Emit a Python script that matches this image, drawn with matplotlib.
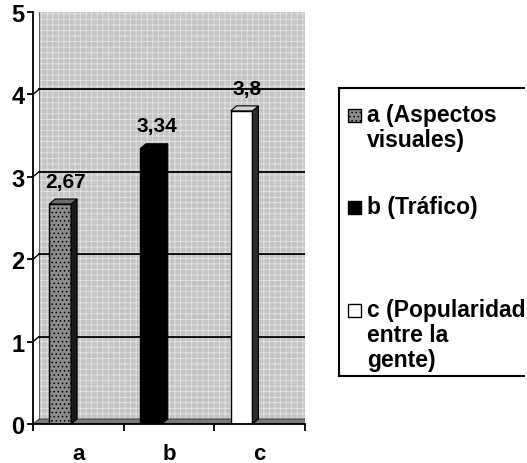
import matplotlib
matplotlib.use("Agg")
import matplotlib.pyplot as plt
from matplotlib.patches import Rectangle, Polygon
from matplotlib.lines import Line2D

categories = ["a", "b", "c"]
values = [2.67, 3.34, 3.8]
legend_labels = ["a (Aspectos\nvisuales)", "b (Tráfico)", "c (Popularidad\nentre la\ngente)"]
y_ticks = [0, 1, 2, 3, 4, 5]

FRONT_COLORS = ["#8c8c8c", "#000000", "#ffffff"]
SIDE_COLORS = ["#1a1a1a", "#000000", "#2a2a2a"]
TOP_COLORS = ["#6a6a6a", "#000000", "#d0d0d0"]

plt.rcParams['font.family'] = ['Liberation Sans', 'DejaVu Sans']
plt.rcParams['hatch.linewidth'] = 0.6

W, H = 527, 464
fig = plt.figure(figsize=(W / 100, H / 100), dpi=100)
# axes box in pixel terms: left 33, right 305, bottom 425, top 13
ax = fig.add_axes([33 / W, (H - 425) / H, (305 - 33) / W, (425 - 13) / H])
ax.set_xlim(-0.5, len(categories) - 0.5)
ax.set_ylim(0, 5)

# 3d depth offset (6 px right, 5 px up) in data units
DX = 6 / (272 / len(categories))
DY = 5 / (412 / 5)
x_left, x_right = -0.5, len(categories) - 0.5

# back wall: stippled light grey
wall = Rectangle((x_left + DX, DY), x_right - x_left, 5.0 - DY * 0.4,
                 facecolor="#c4c4c4", edgecolor="#e4e4e4", hatch="+++",
                 linewidth=0, zorder=0)
ax.add_patch(wall)
ax.add_patch(Rectangle((x_left + DX, DY), x_right - x_left, 5.0 - DY * 0.4,
                       facecolor="none", edgecolor="#666666", linewidth=0.8, zorder=0.2))

# floor
floor = Polygon([(x_left, 0), (x_left + DX, DY), (x_right + DX, DY), (x_right, 0)],
                closed=True, facecolor="#7a7a7a", edgecolor="#333333",
                linewidth=0.6, zorder=0.5)
ax.add_patch(floor)

# gridlines on wall + slanted tick connectors
for t in y_ticks[1:-1]:
    ax.plot([x_left + DX, x_right + DX], [t + DY, t + DY], color="black", lw=1.3, zorder=1)
for t in y_ticks[1:]:
    ax.plot([x_left, x_left + DX], [t, t + DY], color="black", lw=1.0, zorder=1)

BAR_W = 0.24
BAR_SHIFT = -0.2
for i, v in enumerate(values):
    x0 = i + BAR_SHIFT - BAR_W / 2
    front = Rectangle((x0, 0), BAR_W, v, facecolor=FRONT_COLORS[i],
                      edgecolor="black", linewidth=1.0, zorder=3)
    if i == 0:
        front.set_hatch("....")
    ax.add_patch(front)
    side = Polygon([(x0 + BAR_W, 0), (x0 + BAR_W + DX, DY),
                    (x0 + BAR_W + DX, v + DY), (x0 + BAR_W, v)],
                   closed=True, facecolor=SIDE_COLORS[i], edgecolor="black",
                   linewidth=0.8, zorder=3)
    ax.add_patch(side)
    top = Polygon([(x0, v), (x0 + DX, v + DY), (x0 + BAR_W + DX, v + DY), (x0 + BAR_W, v)],
                  closed=True, facecolor=TOP_COLORS[i], edgecolor="black",
                  linewidth=0.8, zorder=3)
    ax.add_patch(top)
    label = f"{v:g}".replace(".", ",")
    ax.annotate(label, (x0 + (BAR_W + DX) / 2 + 0.03, v + DY), xytext=(0, 6),
                textcoords="offset points", ha="center", va="bottom",
                fontsize=15, fontweight="bold", zorder=5)

for s in ["top", "right"]:
    ax.spines[s].set_visible(False)
ax.spines["left"].set_linewidth(1.3)
ax.spines["bottom"].set_linewidth(1.3)
ax.spines["left"].set_zorder(6)
ax.spines["bottom"].set_zorder(6)

ax.set_yticks(y_ticks)
ax.set_yticklabels([str(t) for t in y_ticks], fontsize=17, fontweight="bold")
ax.tick_params(axis="y", direction="out", length=4, width=1.3, pad=2)

ax.set_xticks([x_left + k for k in range(len(categories) + 1)])
ax.set_xticklabels([])
ax.tick_params(axis="x", direction="out", length=5, width=1.3)
for i, c in enumerate(categories):
    ax.annotate(c, (i, 0), xytext=(0, -21), textcoords="offset points",
                ha="center", va="center", fontsize=16, fontweight="bold",
                annotation_clip=False)

# legend box: open on the right, it runs past the edge of the scan
tf = fig.transFigure
def px(x, y):
    return (x / W, (H - y) / H)

(lx, by), (_, ty) = px(339, 377), px(339, 89)
for xs, ys in [([lx, 0.995], [ty, ty]), ([lx, 0.995], [by, by]), ([lx, lx], [ty, by])]:
    fig.lines.append(Line2D(xs, ys, transform=tf, color="black", lw=1.5,
                            solid_capstyle="projecting"))
leg_y = [104, 196, 299]
for i, lab in enumerate(legend_labels):
    mk = Rectangle(px(348, leg_y[i] + 19), 13 / W, 13 / H, transform=tf,
                   facecolor=FRONT_COLORS[i], edgecolor="black", linewidth=1.0,
                   zorder=2)
    if i == 0:
        mk.set_hatch("....")
    fig.patches.append(mk)
    fig.text(*px(367, leg_y[i]), lab, ha="left", va="top", fontsize=16.5,
             fontweight="bold", linespacing=1.1)

fig.savefig("out.png", dpi=100)
